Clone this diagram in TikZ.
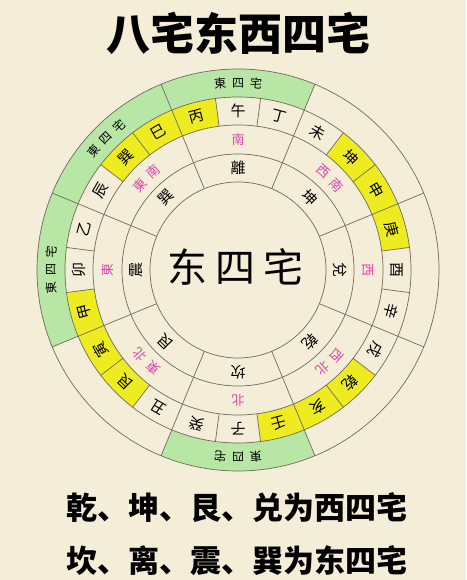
\documentclass[tikz,border=0pt]{standalone}
\usepackage{fontspec}
\newfontfamily\cjk{Noto Sans CJK SC}
\definecolor{paper}{RGB}{244,237,216}
\definecolor{bandgreen}{RGB}{184,230,164}
\definecolor{cellyellow}{RGB}{238,236,32}
\definecolor{dirpink}{RGB}{222,70,172}
\definecolor{ruleline}{RGB}{112,106,96}

\begin{document}
\begin{tikzpicture}[x=1pt,y=1pt,
	mountain/.style={font=\cjk\fontsize{15}{15}\selectfont, inner sep=0pt},
	trigram/.style={font=\cjk\fontsize{15}{15}\selectfont, inner sep=0pt},
	direction/.style={font=\cjk\fontsize{13}{13}\selectfont, text=dirpink, inner sep=0pt},
	house/.style={font=\cjk\fontsize{12}{12}\selectfont, inner sep=0pt},
	ring/.style={draw=ruleline, line width=0.7pt}]
	\fill[paper] (0,0) rectangle (466,580);
	\useasboundingbox (0,0) rectangle (466,580);

	\node (title) at (238,547) {\cjk\bfseries\fontsize{44}{44}\selectfont 八宅东西四宅};

	\begin{scope}[shift={(238,310)}]
	% green bands of the outer ring
	\foreach \a in {67.5,112.5,157.5,247.5}
		\fill[bandgreen] (\a:173) arc[start angle=\a, end angle=\a+45, radius=173]
			-- (\a+45:201) arc[start angle=\a+45, end angle=\a, radius=201] -- cycle;
	% yellow cells of the 24 mountains
	\foreach \a in {15,30,45,105,120,135,195,210,225,285,300,315}
		\fill[cellyellow] (\a-7.5:145) arc[start angle=\a-7.5, end angle=\a+7.5, radius=145]
			-- (\a+7.5:173) arc[start angle=\a+7.5, end angle=\a-7.5, radius=173] -- cycle;

	\foreach \r in {88,116,145,173,201}
		\draw[ring] (0,0) circle[radius=\r];
	\foreach \k in {0,...,7} {
		\draw[ring] (22.5+45*\k:88) -- (22.5+45*\k:201);
		\draw[ring] (37.5+45*\k:145) -- (37.5+45*\k:173);
		\draw[ring] (52.5+45*\k:145) -- (52.5+45*\k:173);
	}

	\foreach \mname [count=\i from 0] in {酉,庚,申,坤,未,丁,午,丙,巳,巽,辰,乙,卯,甲,寅,艮,丑,癸,子,壬,亥,乾,戌,辛}
		\node[mountain, rotate=15*\i-90] (m\i) at (15*\i:159) {\mname};
	\foreach \gname [count=\i from 0] in {兌,坤,離,巽,震,艮,坎,乾}
		\node[trigram, rotate=45*\i-90] (g\i) at (45*\i:102) {\gname};
	% single directions
	\foreach \dname/\a in {西/0,南/90,東/180,北/270}
		\node[direction, rotate=\a-90] (d\a) at (\a:130) {\dname};
	% two-character directions, one node per character along the arc
	\foreach \dfirst/\dsecond/\a in {西/南/45,東/南/135,東/北/225,西/北/315} {
		\node[direction, rotate=\a-86] (d\a a) at (\a+4.2:130) {\dfirst};
		\node[direction, rotate=\a-94] (d\a b) at (\a-4.2:130) {\dsecond};
	}
	% 東四宅 in the green bands
	\foreach \a in {90,135,180,270} {
		\node[house, rotate=\a-84.5] (h\a a) at (\a+5.5:187) {東};
		\node[house, rotate=\a-90] (h\a b) at (\a:187) {四};
		\node[house, rotate=\a-95.5] (h\a c) at (\a-5.5:187) {宅};
	}

	\node (core) at (-3,3) {\cjk\fontsize{40}{40}\selectfont 东\hspace{8pt}四\hspace{8pt}宅};
	\end{scope}

	\node (west) at (237,72) {\cjk\bfseries\fontsize{31}{31}\selectfont 乾、坤、艮、兑为西四宅};
	\node (east) at (237,19) {\cjk\bfseries\fontsize{31}{31}\selectfont 坎、离、震、巽为东四宅};
\end{tikzpicture}
\end{document}
